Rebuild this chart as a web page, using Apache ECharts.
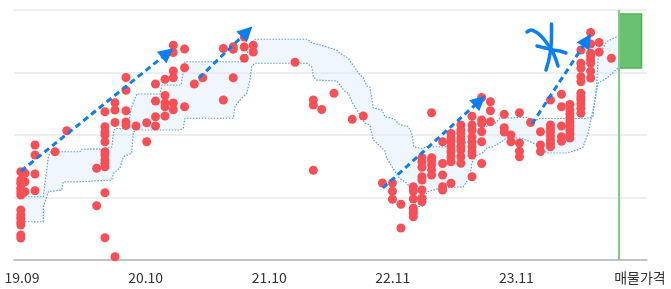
<!DOCTYPE html>
<html><head><meta charset="utf-8">
<script src="https://cdn.jsdelivr.net/npm/echarts@6/dist/echarts.min.js"></script>
<style>html,body{margin:0;padding:0;background:#fff}#c{width:671px;height:289px}</style>
</head><body><div id="c"></div>
<script>
// x axis: period index (label every 10 units), y axis: relative price level (0-100)
const xTickValues = [0, 10, 20, 30, 40, 50];
const xTickLabels = ['19.09', '20.10', '21.10', '22.11', '23.11', '매물가격'];

// traded prices [period, price]
const trades = [
[-0.1,35.3],[-0.1,32],[-0.1,30.7],[-0.1,28.7],[-0.1,27.3],[-0.1,26],[-0.1,20],[-0.1,18],[-0.1,16.7],[-0.1,15.2],[-0.1,14],[-0.1,10],[-0.1,8.8],
[0.24,34.7],[0.24,31.3],[0.24,27.3],
[1.05,46],[1.05,42],[1.05,34.4],[1.05,27.7],
[2.67,43.3],[3.62,51.7],
[6.04,36.7],[6.04,21.7],
[6.71,59.3],[6.71,53.3],[6.71,51.3],[6.71,50],[6.71,47.3],[6.71,43.3],[6.71,42],[6.71,40],[6.71,38.7],[6.71,37.3],[6.71,26.9],[6.71,8.9],
[7.52,62.9],[7.52,60],[7.52,55],[7.52,1.3],
[8.41,73],[8.41,67.9],[8.41,59.7],[8.41,55.2],[8.41,53.8],
[9.22,53.6],
[10.09,54.9],[10.09,47.3],
[10.8,70.4],[10.8,63.6],[10.8,57.3],[10.8,53.6],
[11.57,72.3],[11.57,65.8],[11.57,62.8],[11.57,61.3],[11.57,57.6],
[12.24,85.9],[12.24,83],[12.24,75.6],[12.24,72.9],[12.24,62.8],[12.24,60.1],
[13.15,84.4],[13.15,76.9],[13.15,61.3],
[13.94,70.4],[14.62,72.9],
[16.29,84.6],[16.29,64],
[17.09,85.3],[17.09,84.3],[17.09,72.9],
[17.98,89.2],[17.98,85.2],[17.98,80.7],
[18.71,85.9],[18.71,83.2],
[22.09,79.1],
[23.57,64],[23.57,62],[23.57,35.9],
[24.25,60.2],[25.24,66.7],[26.72,56.3],[27.61,57.6],
[29.16,30.8],
[29.97,30.8],[29.97,27.5],[29.97,24.3],
[30.66,22.3],[30.66,12.8],
[31.66,29.3],[31.66,27.6],[31.66,24.4],[31.66,20.7],[31.66,19.6],[31.66,18.7],[31.66,17.3],
[32.36,40.9],[32.36,39.2],[32.36,37.1],[32.36,33.3],[32.36,32],[32.36,28],[32.36,24.7],[32.36,23.4],
[33.14,58.9],[33.14,40.9],[33.14,39.6],[33.14,38],[33.14,36],[33.14,34],
[34.03,47.3],[34.03,38.6],[34.03,34],[34.03,29.3],[34.03,28],
[34.71,50.6],[34.71,48.8],[34.71,47.3],[34.71,45.3],[34.71,43.3],[34.71,41.3],[34.71,39.3],[34.71,30.7],
[35.51,54],[35.51,52],[35.51,50.7],[35.51,48.8],[35.51,47.3],[35.51,45.3],[35.51,44],[35.51,41.3],[35.51,38.7],
[36.41,57.5],[36.41,54],[36.41,52],[36.41,49.3],[36.41,47.3],[36.41,45.3],[36.41,43.3],[36.41,42],[36.41,33.3],
[37.19,65],[37.19,56],[37.19,54.6],[37.19,51.3],[37.19,47.3],[37.19,38.6],
[37.9,63.3],[37.9,59.7],[37.9,55.3],
[39.02,58.3],[39.02,52.9],[39.02,51.2],
[39.56,50],[39.56,47.3],
[40.25,58.9],[40.25,46.8],[40.25,43.5],[40.25,41.3],
[41.15,55],
[41.95,51.3],[41.95,46],[41.95,43.4],
[42.76,64],[42.76,54],[42.76,52.6],[42.76,51.2],[42.76,49.6],[42.76,48],[42.76,46.6],[42.76,45.3],
[43.65,66.3],[43.65,61.3],[43.65,53.6],[43.65,49.3],[43.65,47.5],
[44.33,62.2],[44.33,60],[44.33,58.4],[44.33,56.8],[44.33,55.2],[44.33,53.6],[44.33,52],[44.33,50.4],[44.33,48.8],
[45.22,84],[45.22,78.7],[45.22,76.7],[45.22,73.3],[45.22,71.3],[45.22,66.7],[45.22,65.2],[45.22,64],[45.22,62.4],[45.22,60.7],[45.22,58.7],
[46.01,91],[46.01,86.4],[46.01,82.7],[46.01,81.4],[46.01,80],[46.01,78.7],[46.01,75.5],[46.01,72.8],
[46.7,87],[46.7,83.2],
[47.69,80.7]
];

// price band boundaries [period, price]
const bandUpper = [
[0,25.3],[1.72,25.3],[2.13,41.3],[2.27,43.2],[3.21,43.3],[4.69,43.3],[4.83,44.3],[6.55,44.4],[7.26,45.2],[7.39,50.7],[7.52,52.6],[8.49,52.6],[8.87,61.2],[9.28,66.4],[11.16,66.4],[11.33,70],[12.86,70],[13.19,79.3],[17.77,79.3],[18.45,84.8],[18.85,88.3],[23.03,88.3],[23.54,86.7],[24.1,86],[25.46,84],[25.73,82.7],[26.4,80.7],[27.34,74],[27.61,73.1],[27.89,69.6],[28.15,69.2],[28.42,60.8],[29.12,60],[29.37,57.3],[30.09,56.4],[30.58,54],[31.25,53.4],[31.53,50.8],[31.71,45.2],[32.34,44.6],[32.74,45.3],[35.17,45.3],[36.38,48],[36.51,51.3],[37.19,52.8],[37.46,53.3],[38.27,54.7],[38.67,56.7],[40.83,57.1],[41.37,55.6],[41.91,56.6],[45.55,56.6],[46.19,57.3],[46.49,69.3],[46.62,81.3],[47.3,87.3],[48.11,89.3],[48.3,89.8]
];
const bandLower = [
[0,15.3],[1.72,15.3],[1.73,21.3],[2.13,27.3],[3.21,28],[3.34,31.3],[4.69,31.3],[4.83,32],[7.26,32],[7.39,34.7],[7.93,36.8],[8.2,41.3],[8.87,42.7],[9.0,50.7],[9.14,52],[12.78,52],[13.05,52.7],[13.19,56.7],[17.09,56.7],[17.23,61.3],[17.64,64],[18.18,66.7],[18.45,72],[18.58,77.3],[18.85,78.7],[23.03,78.7],[23.44,77.3],[23.57,73.3],[23.84,72],[25.46,71.6],[25.73,70],[26.13,67.3],[26.4,66.7],[26.7,63.2],[27.75,54.7],[28.15,54],[28.42,48],[28.96,45.6],[29.37,43.6],[29.5,40.8],[30.44,33.3],[30.74,32],[31.15,30.7],[31.53,28],[31.87,21.4],[32.52,21.4],[32.74,27.2],[33.82,28.8],[35.7,29.2],[36.24,33.3],[36.38,38],[36.51,41.2],[37.32,43],[37.62,44.8],[38.13,45.3],[38.81,47.3],[39.21,48.8],[40.37,48.8],[41.1,47.3],[41.91,45.6],[42.45,42.8],[44.07,42.8],[44.88,44],[45.38,45],[45.81,50.7],[46.09,57.3],[46.35,64],[46.62,70.7],[47.3,72.7],[48.21,76.7],[48.3,76.8]
];

// trend arrows [[start],[end]]
const trendArrows = [
 [[-0.08,35.6],[11.77,82.8]],
 [[14.32,72.8],[18.2,91.3]],
 [[29.2,28.8],[37.04,63.7]],
 [[41.26,54.4],[45.72,88.0]]
];

// listing price: marker position and range [xStart, xEnd, low, high]
const listingLineX = 48.3;
const listingBox = [[48.3, 50.13, 76.8, 98.4]];

const chart = echarts.init(document.getElementById('c'), null, {renderer: 'canvas'});
const FONT = '"Noto Sans CJK KR", "Noto Sans", sans-serif';
const BLUE = '#0d7ef0';

const option = {
  animation: false,
  grid: {left: 14, right: 24, top: 10, bottom: 29, containLabel: false},
  xAxis: {
    type: 'value', min: -0.65, max: 50.57,
    splitLine: {show: false},
    axisTick: {show: false},
    axisLine: {show: true, lineStyle: {color: '#b4b4b4', width: 1.5}},
    axisLabel: {
      customValues: xTickValues,
      formatter: function (v) {
        const i = xTickValues.findIndex(t => Math.abs(t - v) < 1e-6);
        return i >= 0 ? xTickLabels[i] : '';
      },
      color: '#333', fontSize: 14, margin: 11, fontFamily: FONT
    }
  },
  yAxis: {
    type: 'value', min: 0, max: 100, interval: 25,
    axisLabel: {show: false}, axisTick: {show: false}, axisLine: {show: false},
    splitLine: {show: true, lineStyle: {color: '#e9e9e9', width: 1.5}}
  },
  series: [
    {
      type: 'custom', silent: true, z: 1,
      data: [[0, 0]],
      renderItem: function (params, api) {
        const pts = bandUpper.map(p => api.coord(p))
          .concat(bandLower.slice().reverse().map(p => api.coord(p)));
        return {type: 'polygon', shape: {points: pts}, style: {fill: 'rgba(213,231,250,0.38)'}};
      }
    },
    {
      type: 'line', data: bandUpper, showSymbol: false, silent: true, z: 2,
      lineStyle: {color: '#5c9fe6', width: 1.2, type: [1.5, 1.5]}
    },
    {
      type: 'line', data: bandLower, showSymbol: false, silent: true, z: 2,
      lineStyle: {color: '#5c9fe6', width: 1.2, type: [1.5, 1.5]}
    },
    {
      type: 'scatter', data: trades, symbolSize: 9, silent: true, z: 3,
      itemStyle: {color: '#f64f56', opacity: 1}
    },
    {
      type: 'custom', silent: true, z: 4,
      data: listingBox,
      renderItem: function (params, api) {
        const p1 = api.coord([api.value(0), api.value(3)]);
        const p2 = api.coord([api.value(1), api.value(2)]);
        return {type: 'rect', shape: {x: p1[0], y: p1[1], width: p2[0] - p1[0], height: p2[1] - p1[1]},
          style: {fill: '#68c272', stroke: '#4db355', lineWidth: 1.5}};
      },
      markLine: {
        silent: true, symbol: 'none', label: {show: false},
        lineStyle: {color: '#7dcc84', width: 2, type: 'solid'},
        data: [{xAxis: listingLineX}]
      }
    },
    {
      type: 'line', data: [], silent: true, z: 5,
      markLine: {
        silent: true, symbol: ['none', 'triangle'], symbolSize: 15, label: {show: false},
        lineStyle: {color: BLUE, width: 3, type: [6, 4]},
        itemStyle: {color: BLUE},
        emphasis: {disabled: true},
        data: trendArrows.map(a => [{coord: a[0]}, {coord: a[1]}])
      }
    }
  ],
  graphic: [
    {type: 'polyline', silent: true, z: 100, shape: {points: [[527,32],[531,30],[536,32],[541,36],[546,42],[551,49],[555,57],[558,66]], smooth: 0.3},
      style: {stroke: BLUE, lineWidth: 3.5, fill: null, lineCap: 'round', lineJoin: 'round'}},
    {type: 'polyline', silent: true, z: 100, shape: {points: [[551.5,24],[551.5,35],[551,47],[549,59],[546,70]], smooth: 0.3},
      style: {stroke: BLUE, lineWidth: 3.5, fill: null, lineCap: 'round', lineJoin: 'round'}},
    {type: 'polyline', silent: true, z: 100, shape: {points: [[537,46],[545,48],[553,50],[560,51],[566,53]], smooth: 0.3},
      style: {stroke: BLUE, lineWidth: 3.5, fill: null, lineCap: 'round', lineJoin: 'round'}}
  ]
};
chart.setOption(option);
</script>
</body></html>
